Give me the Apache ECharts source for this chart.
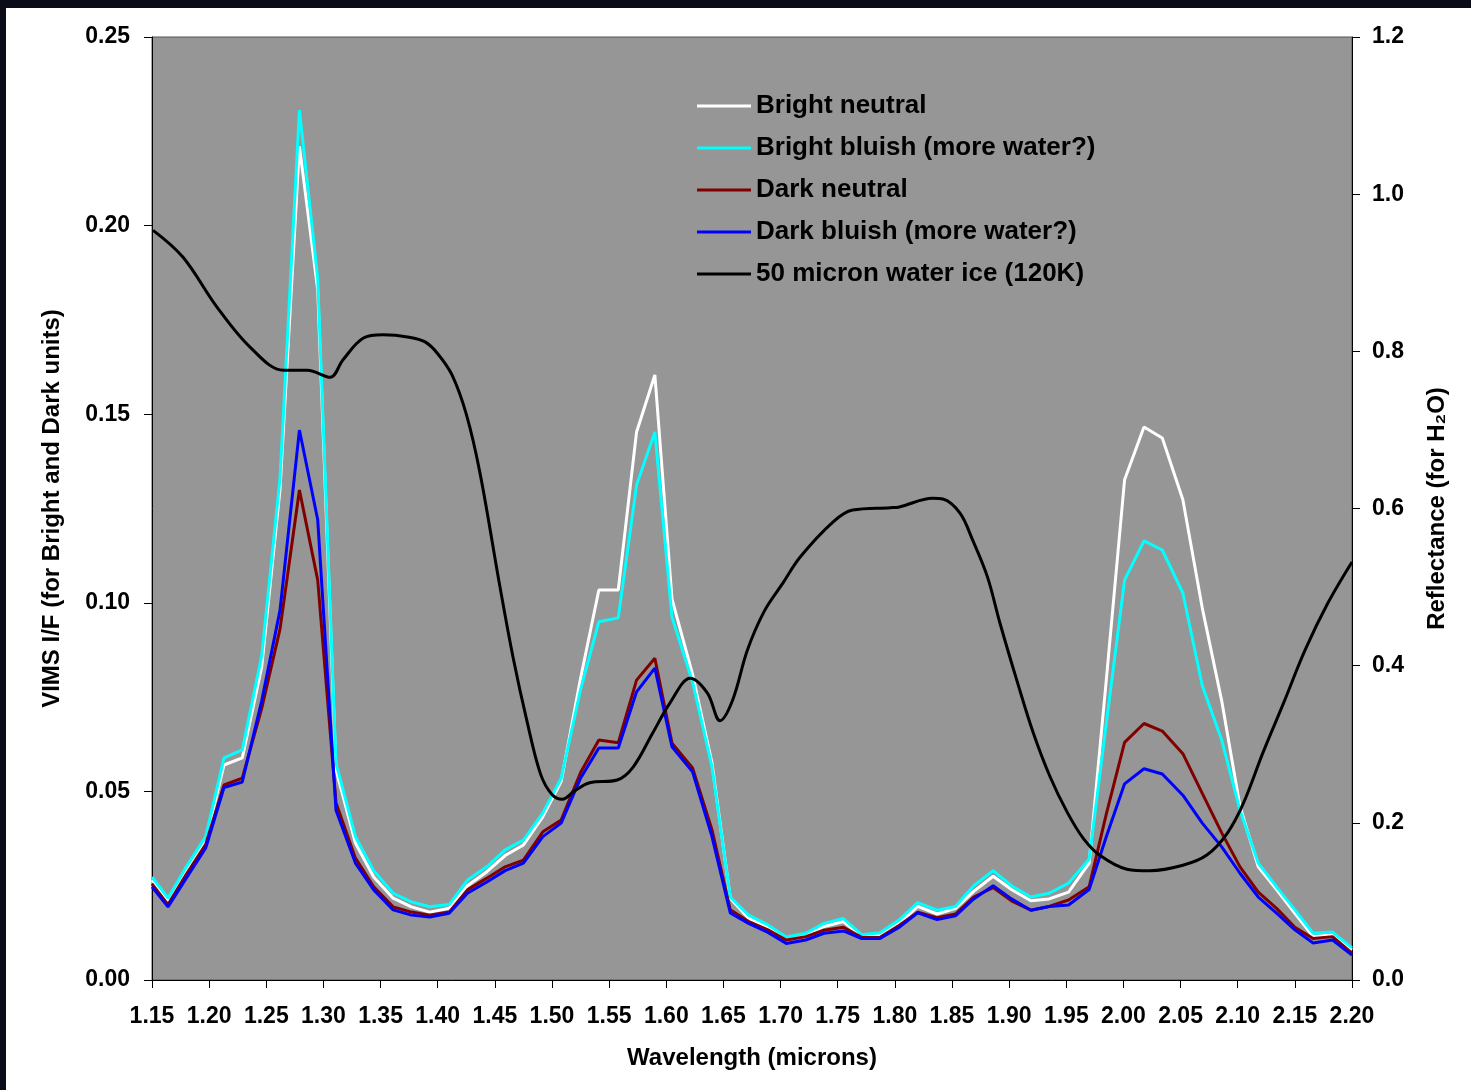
<!DOCTYPE html>
<html>
<head>
<meta charset="utf-8">
<title>VIMS spectra</title>
<script src="https://cdn.jsdelivr.net/npm/echarts@6/dist/echarts.min.js"></script>
<style>
  html, body { margin: 0; padding: 0; background: #0a0d18; }
  #paper { position: absolute; left: 6px; top: 8px; right: 0; bottom: 0; background: #ffffff; }
  #main { position: absolute; left: 0; top: 0; width: 1471px; height: 1090px; }
</style>
</head>
<body>
<div id="paper"></div>
<div id="main"></div>
<script>
// wavelengths (microns) of the VIMS channels
var wavelength = [1.150, 1.164, 1.180, 1.197, 1.213, 1.229, 1.246, 1.262, 1.279, 1.295,
  1.311, 1.328, 1.344, 1.361, 1.377, 1.393, 1.410, 1.426, 1.443, 1.459,
  1.475, 1.492, 1.508, 1.525, 1.541, 1.558, 1.574, 1.590, 1.605, 1.623,
  1.640, 1.656, 1.672, 1.689, 1.705, 1.722, 1.738, 1.755, 1.771, 1.787,
  1.804, 1.820, 1.837, 1.853, 1.869, 1.886, 1.902, 1.919, 1.935, 1.952,
  1.970, 1.985, 2.001, 2.018, 2.034, 2.052, 2.069, 2.086, 2.102, 2.118,
  2.134, 2.150, 2.166, 2.183, 2.200];

var brightNeutral = [0.0265, 0.021, 0.029, 0.037, 0.057, 0.0589, 0.083, 0.130, 0.221, 0.183,
  0.0557, 0.0363, 0.0273, 0.0217, 0.0194, 0.018, 0.019, 0.025, 0.0287, 0.033,
  0.0358, 0.0433, 0.0526, 0.080, 0.1034, 0.1034, 0.1453, 0.1604, 0.101, 0.081,
  0.0575, 0.0217, 0.0164, 0.014, 0.011, 0.012, 0.0142, 0.0155, 0.0115, 0.012,
  0.015, 0.0195, 0.0175, 0.019, 0.0235, 0.0275, 0.024, 0.021, 0.0215, 0.0233,
  0.031, 0.0795, 0.1326, 0.1466, 0.1437, 0.1273, 0.0986, 0.074, 0.046, 0.030,
  0.024, 0.0177, 0.0115, 0.012, 0.008];

var brightBluish = [0.0273, 0.0217, 0.030, 0.038, 0.0589, 0.061, 0.086, 0.133, 0.2306, 0.186,
  0.0575, 0.038, 0.029, 0.023, 0.0207, 0.0194, 0.020, 0.0265, 0.030, 0.0345,
  0.0371, 0.0443, 0.0535, 0.077, 0.095, 0.096, 0.1312, 0.1453, 0.0962, 0.079,
  0.0565, 0.022, 0.0172, 0.0146, 0.0114, 0.0124, 0.015, 0.0163, 0.012, 0.0125,
  0.016, 0.0205, 0.0185, 0.0195, 0.025, 0.029, 0.025, 0.022, 0.023, 0.0257,
  0.032, 0.068, 0.106, 0.1164, 0.114, 0.1026, 0.078, 0.0636, 0.045, 0.031,
  0.0247, 0.0186, 0.0124, 0.0127, 0.0085];

var darkNeutral = [0.0255, 0.020, 0.028, 0.036, 0.0517, 0.0535, 0.072, 0.093, 0.1299, 0.106,
  0.047, 0.0323, 0.0247, 0.0194, 0.018, 0.0172, 0.018, 0.0239, 0.027, 0.030,
  0.0318, 0.0393, 0.0424, 0.055, 0.0636, 0.0629, 0.0795, 0.0853, 0.0628, 0.0562,
  0.0398, 0.0186, 0.0155, 0.0133, 0.0106, 0.0115, 0.0132, 0.014, 0.0113, 0.0113,
  0.0145, 0.018, 0.0165, 0.0175, 0.022, 0.0245, 0.021, 0.0185, 0.0195, 0.0212,
  0.0247, 0.044, 0.063, 0.068, 0.066, 0.060, 0.0495, 0.039, 0.030, 0.0233,
  0.019, 0.014, 0.011, 0.0115, 0.0071];

var darkBluish = [0.0247, 0.0194, 0.027, 0.035, 0.051, 0.0525, 0.074, 0.098, 0.1458, 0.122,
  0.045, 0.031, 0.0239, 0.0186, 0.0172, 0.0167, 0.0177, 0.023, 0.026, 0.029,
  0.031, 0.038, 0.0416, 0.0535, 0.0615, 0.0615, 0.0764, 0.0827, 0.0618, 0.0552,
  0.038, 0.0178, 0.015, 0.0126, 0.0097, 0.0106, 0.0124, 0.013, 0.011, 0.011,
  0.014, 0.0178, 0.016, 0.017, 0.0215, 0.025, 0.0215, 0.0185, 0.0195, 0.0199,
  0.024, 0.038, 0.052, 0.056, 0.0546, 0.049, 0.0416, 0.0353, 0.0283, 0.022,
  0.0177, 0.0133, 0.0098, 0.0106, 0.0066];

// 50 micron water ice model (right axis)
var iceWave = [1.151, 1.177, 1.207, 1.236, 1.265, 1.286, 1.306, 1.317, 1.335, 1.352,
  1.375, 1.389, 1.400, 1.4125, 1.425, 1.437, 1.4545, 1.466, 1.478, 1.490,
  1.500, 1.509, 1.520, 1.533, 1.557, 1.571, 1.588, 1.603, 1.621, 1.636,
  1.647, 1.658, 1.671, 1.686, 1.702, 1.717, 1.746, 1.763, 1.796, 1.804,
  1.833, 1.842, 1.857, 1.868, 1.881, 1.892, 1.907, 1.921, 1.936, 1.951,
  1.965, 1.980, 2.003, 2.023, 2.052, 2.073, 2.091, 2.105, 2.122, 2.140,
  2.159, 2.179, 2.200];
var iceRefl = [0.954, 0.920, 0.856, 0.805, 0.776, 0.776, 0.767, 0.789, 0.817, 0.821,
  0.818, 0.812, 0.797, 0.770, 0.720, 0.645, 0.500, 0.410, 0.330, 0.262,
  0.236, 0.230, 0.241, 0.251, 0.2545, 0.271, 0.314, 0.352, 0.384, 0.365,
  0.330, 0.356, 0.420, 0.470, 0.505, 0.538, 0.583, 0.598, 0.601, 0.602,
  0.613, 0.612, 0.594, 0.560, 0.513, 0.454, 0.380, 0.315, 0.258, 0.213,
  0.180, 0.158, 0.141, 0.139, 0.146, 0.159, 0.187, 0.225, 0.289, 0.352,
  0.420, 0.480, 0.532];

var seriesNames = ['Bright neutral', 'Bright bluish (more water?)', 'Dark neutral',
  'Dark bluish (more water?)', '50 micron water ice (120K)'];
var seriesColors = ['#ffffff', '#00ffff', '#800000', '#0000ff', '#000000'];

function pairs(xs, ys) {
  var out = [];
  for (var i = 0; i < xs.length; i++) out.push([xs[i], ys[i]]);
  return out;
}

var font = 'Liberation Sans, Arial, sans-serif';
var myChart = echarts.init(document.getElementById('main'));

var vims = [brightNeutral, brightBluish, darkNeutral, darkBluish];
var cdata = [];
for (var k = 0; k < 4; k++) {
  cdata.push({
    name: seriesNames[k],
    type: 'line',
    yAxisIndex: 0,
    data: pairs(wavelength, vims[k]),
    showSymbol: false,
    symbol: 'none',
    lineStyle: { width: 3, color: seriesColors[k] },
    itemStyle: { color: seriesColors[k] },
    z: 2 + k
  });
}
cdata.push({
  name: seriesNames[4],
  type: 'line',
  yAxisIndex: 1,
  data: pairs(iceWave, iceRefl),
  smooth: 0.35,
  showSymbol: false,
  symbol: 'none',
  lineStyle: { width: 3, color: seriesColors[4] },
  itemStyle: { color: seriesColors[4] },
  z: 7
});

var option = {
  animation: false,
  backgroundColor: 'transparent',
  textStyle: { fontFamily: font },
  color: seriesColors,
  grid: {
    left: 152, right: 119, top: 37, bottom: 110,
    show: true,
    backgroundColor: '#969696',
    borderColor: '#555555',
    borderWidth: 1
  },
  legend: {
    orient: 'vertical',
    left: 692,
    top: 88,
    icon: 'rect',
    itemWidth: 54,
    itemHeight: 3,
    itemGap: 16,
    data: seriesNames,
    textStyle: { color: '#000', fontWeight: 'bold', fontSize: 26, fontFamily: font }
  },
  xAxis: {
    type: 'value',
    min: 1.15,
    max: 2.2,
    interval: 0.05,
    name: 'Wavelength (microns)',
    nameLocation: 'middle',
    nameGap: 66,
    nameTextStyle: { color: '#000', fontWeight: 'bold', fontSize: 24, fontFamily: font },
    axisLine: { show: true, onZero: false, lineStyle: { color: '#000', width: 1 } },
    axisTick: { show: true, inside: false, length: 8, lineStyle: { color: '#000' } },
    axisLabel: {
      color: '#000', fontWeight: 'bold', fontSize: 23, fontFamily: font, margin: 25,
      formatter: function (v) { return v.toFixed(2); }
    },
    splitLine: { show: false }
  },
  yAxis: [{
    type: 'value',
    position: 'left',
    min: 0,
    max: 0.25,
    interval: 0.05,
    name: 'VIMS I/F (for Bright and Dark units)',
    nameLocation: 'middle',
    nameRotate: 90,
    nameGap: 88,
    nameTextStyle: { color: '#000', fontWeight: 'bold', fontSize: 24, fontFamily: font },
    axisLine: { show: true, lineStyle: { color: '#000', width: 1 } },
    axisTick: { show: true, inside: false, length: 8, lineStyle: { color: '#000' } },
    axisLabel: {
      color: '#000', fontWeight: 'bold', fontSize: 23, fontFamily: font, margin: 22,
      formatter: function (v) { return v.toFixed(2); }
    },
    splitLine: { show: false }
  }, {
    type: 'value',
    position: 'right',
    min: 0,
    max: 1.2,
    interval: 0.2,
    name: 'Reflectance (for H\u2082O)',
    nameLocation: 'middle',
    nameRotate: 90,
    nameGap: 73,
    nameTextStyle: { color: '#000', fontWeight: 'bold', fontSize: 24, fontFamily: font },
    axisLine: { show: true, lineStyle: { color: '#000', width: 1 } },
    axisTick: { show: true, inside: false, length: 8, lineStyle: { color: '#000' } },
    axisLabel: {
      color: '#000', fontWeight: 'bold', fontSize: 23, fontFamily: font, margin: 20,
      formatter: function (v) { return v.toFixed(1); }
    },
    splitLine: { show: false }
  }],
  series: cdata
};

myChart.setOption(option);
window.addEventListener('resize', function () {
  myChart.resize();
});
</script>
</body>
</html>
